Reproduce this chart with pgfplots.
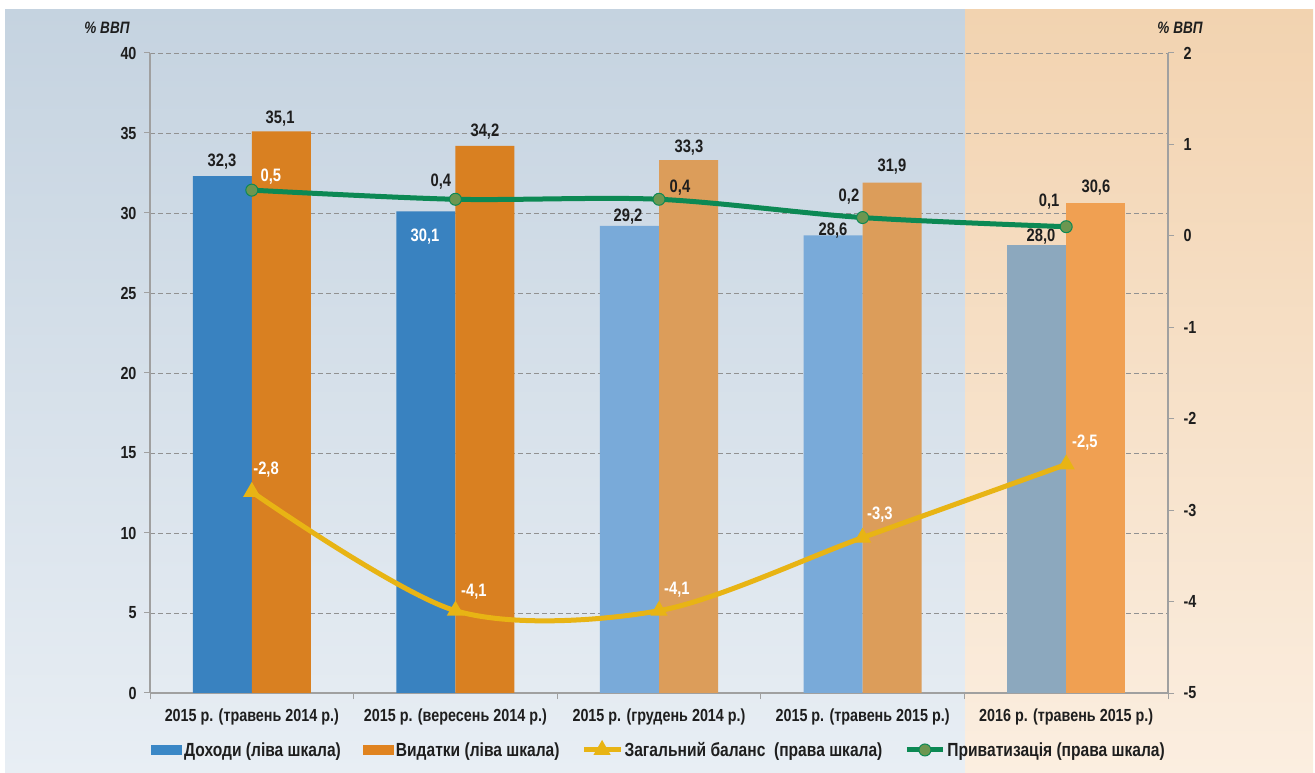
\documentclass[border=0pt]{standalone}
\usepackage{pgfplots}
\pgfplotsset{compat=1.18}
\usepackage{fontspec}
\setmainfont{Liberation Sans}[FakeStretch=0.82]

\definecolor{bgLtop}{RGB}{197,211,224}
\definecolor{bgLbot}{RGB}{232,238,244}
\definecolor{bgRtop}{RGB}{242,211,176}
\definecolor{bgRbot}{RGB}{251,238,224}
\definecolor{blueA}{RGB}{57,130,192}
\definecolor{blueB}{RGB}{121,170,217}
\definecolor{blueC}{RGB}{140,168,190}
\definecolor{orA}{RGB}{217,128,33}
\definecolor{orB}{RGB}{220,157,90}
\definecolor{orC}{RGB}{240,160,82}
\definecolor{legblue}{RGB}{58,135,198}
\definecolor{legor}{RGB}{224,131,31}
\definecolor{gline}{RGB}{12,137,84}
\definecolor{gmark}{RGB}{108,150,80}
\definecolor{yline}{RGB}{232,180,20}
\definecolor{ymark}{RGB}{234,134,30}
\definecolor{axgray}{RGB}{160,160,160}
\definecolor{gridgray}{RGB}{145,145,145}
\definecolor{txt}{RGB}{30,30,30}

\pgfplotsset{
  rect legend/.style={legend image code/.code={\fill[##1] (0bp,-5bp) rectangle (31bp,5bp);}},
  wide line legend/.style={legend image code/.code={\draw[mark repeat=2,mark phase=2,##1] plot coordinates {(0bp,0bp) (18bp,0bp) (36bp,0bp)};}},
  common/.style={at={(150bp,80bp)}, anchor=south west, scale only axis,
    width=1018bp, height=640bp, xmin=-0.5, xmax=4.5, clip=false,
    axis line style={draw=axgray, line width=1.3bp, -},
    tick align=outside, major tick length=6bp, minor tick length=6bp,
    ytick style={draw=axgray, line width=1bp},
  },
}
\tikzset{
  dl/.style={font=\bfseries\fontsize{18bp}{20bp}\selectfont, text=txt, inner sep=0pt},
  dlw/.style={dl, text=white},
}

\begin{document}
\begin{tikzpicture}
\shade[top color=bgLtop,bottom color=bgLbot] (5bp,0bp) rectangle (965bp,763bp);
\shade[top color=bgRtop,bottom color=bgRbot] (965bp,0bp) rectangle (1313bp,763bp);

\begin{axis}[common, ymin=0, ymax=40,
  axis x line*=bottom, axis y line*=left,
  ytick={0,5,...,40},
  yticklabels={0,5,10,15,20,25,30,35,40},
  yticklabel style={font=\bfseries\fontsize{17.5bp}{19bp}\selectfont, text=txt, xshift=-4bp},
  ymajorgrids,
  grid style={draw=gridgray, line width=0.9bp, dash pattern=on 5bp off 3bp},
  xtick={0,...,4},
  xticklabels={2015 р. (травень 2014 р.), 2015 р. (вересень 2014 р.), 2015 р. (грудень 2014 р.), 2015 р. (травень 2015 р.), 2016 р. (травень 2015 р.)},
  minor xtick={-0.5,0.5,...,4.5},
  major x tick style={draw=none},
  minor x tick style={draw=axgray, line width=1bp},
  xticklabel style={font=\bfseries\fontsize{17.5bp}{19bp}\selectfont, text=txt, yshift=-6bp},
]
\addplot[ybar, bar width=0.29, bar shift=-0.145, fill=blueA, draw=none] coordinates {(0,32.3) (1,30.1)};
\addplot[ybar, bar width=0.29, bar shift=-0.145, fill=blueB, draw=none] coordinates {(2,29.2) (3,28.6)};
\addplot[ybar, bar width=0.29, bar shift=-0.145, fill=blueC, draw=none] coordinates {(4,28.0)};
\addplot[ybar, bar width=0.29, bar shift=0.145, fill=orA, draw=none] coordinates {(0,35.1) (1,34.2)};
\addplot[ybar, bar width=0.29, bar shift=0.145, fill=orB, draw=none] coordinates {(2,33.3) (3,31.9)};
\addplot[ybar, bar width=0.29, bar shift=0.145, fill=orC, draw=none] coordinates {(4,30.6)};

\node[dl] at (axis cs:-0.146,33.2) {32,3};
\node[dl] at (axis cs:0.139,35.9) {35,1};
\node[dlw] at (axis cs:0.851,28.5) {30,1};
\node[dl] at (axis cs:1.145,35.1) {34,2};
\node[dl] at (axis cs:1.848,29.8) {29,2};
\node[dl] at (axis cs:2.147,34.1) {33,3};
\node[dl] at (axis cs:2.855,28.9) {28,6};
\node[dl] at (axis cs:3.144,32.9) {31,9};
\node[dl] at (axis cs:3.876,28.5) {28,0};
\node[dl] at (axis cs:4.146,31.6) {30,6};
\end{axis}

\begin{axis}[common, ymin=-5, ymax=2,
  axis x line=none, axis y line*=right,
  ytick={-5,...,2}, yticklabels={-5,-4,-3,-2,-1,0,1,2},
  yticklabel style={font=\bfseries\fontsize{17.5bp}{19bp}\selectfont, text=txt, xshift=6bp},
  legend columns=4,
  legend style={at={(0.5,-0.089)}, anchor=center, draw=none, fill=none,
    font=\bfseries\fontsize{19bp}{21bp}\selectfont, text=txt,
    /tikz/every even column/.append style={column sep=20bp}},
]
\addlegendimage{rect legend, fill=legblue, draw=none}
\addlegendentry{Доходи (ліва шкала)}
\addlegendimage{rect legend, fill=legor, draw=none}
\addlegendentry{Видатки (ліва шкала)}
\addplot[smooth, yline, line width=5bp, mark=triangle*, mark size=5bp,
  mark options={fill=ymark, draw=none}, wide line legend]
  coordinates {(0,-2.8) (1,-4.1) (2,-4.1) (3,-3.3) (4,-2.5)};
\addlegendentry{Загальний баланс\ \ (права шкала)}
\addplot[smooth, gline, line width=5bp, mark=*, mark size=6bp,
  mark options={fill=gmark, draw=gline, line width=1bp}, wide line legend]
  coordinates {(0,0.5) (1,0.4) (2,0.4) (3,0.2) (4,0.1)};
\addlegendentry{Приватизація (права шкала)}

\node[dlw] at (axis cs:0.094,0.644) {0,5};
\node[dl] at (axis cs:0.929,0.589) {0,4};
\node[dl] at (axis cs:2.103,0.523) {0,4};
\node[dl] at (axis cs:2.933,0.425) {0,2};
\node[dl] at (axis cs:3.916,0.370) {0,1};
\node[dlw] at (axis cs:0.07,-2.561) {-2,8};
\node[dlw] at (axis cs:1.091,-3.895) {-4,1};
\node[dlw] at (axis cs:2.088,-3.873) {-4,1};
\node[dlw] at (axis cs:3.085,-3.053) {-3,3};
\node[dlw] at (axis cs:4.092,-2.266) {-2,5};
\end{axis}

\node[font=\bfseries\itshape\fontsize{16.5bp}{18bp}\selectfont, text=txt] at (107bp,745bp) {\% ВВП};
\node[font=\bfseries\itshape\fontsize{16.5bp}{18bp}\selectfont, text=txt] at (1180bp,745bp) {\% ВВП};

\pgfresetboundingbox
\useasboundingbox (0bp,0bp) rectangle (1315bp,773bp);
\end{tikzpicture}
\end{document}
